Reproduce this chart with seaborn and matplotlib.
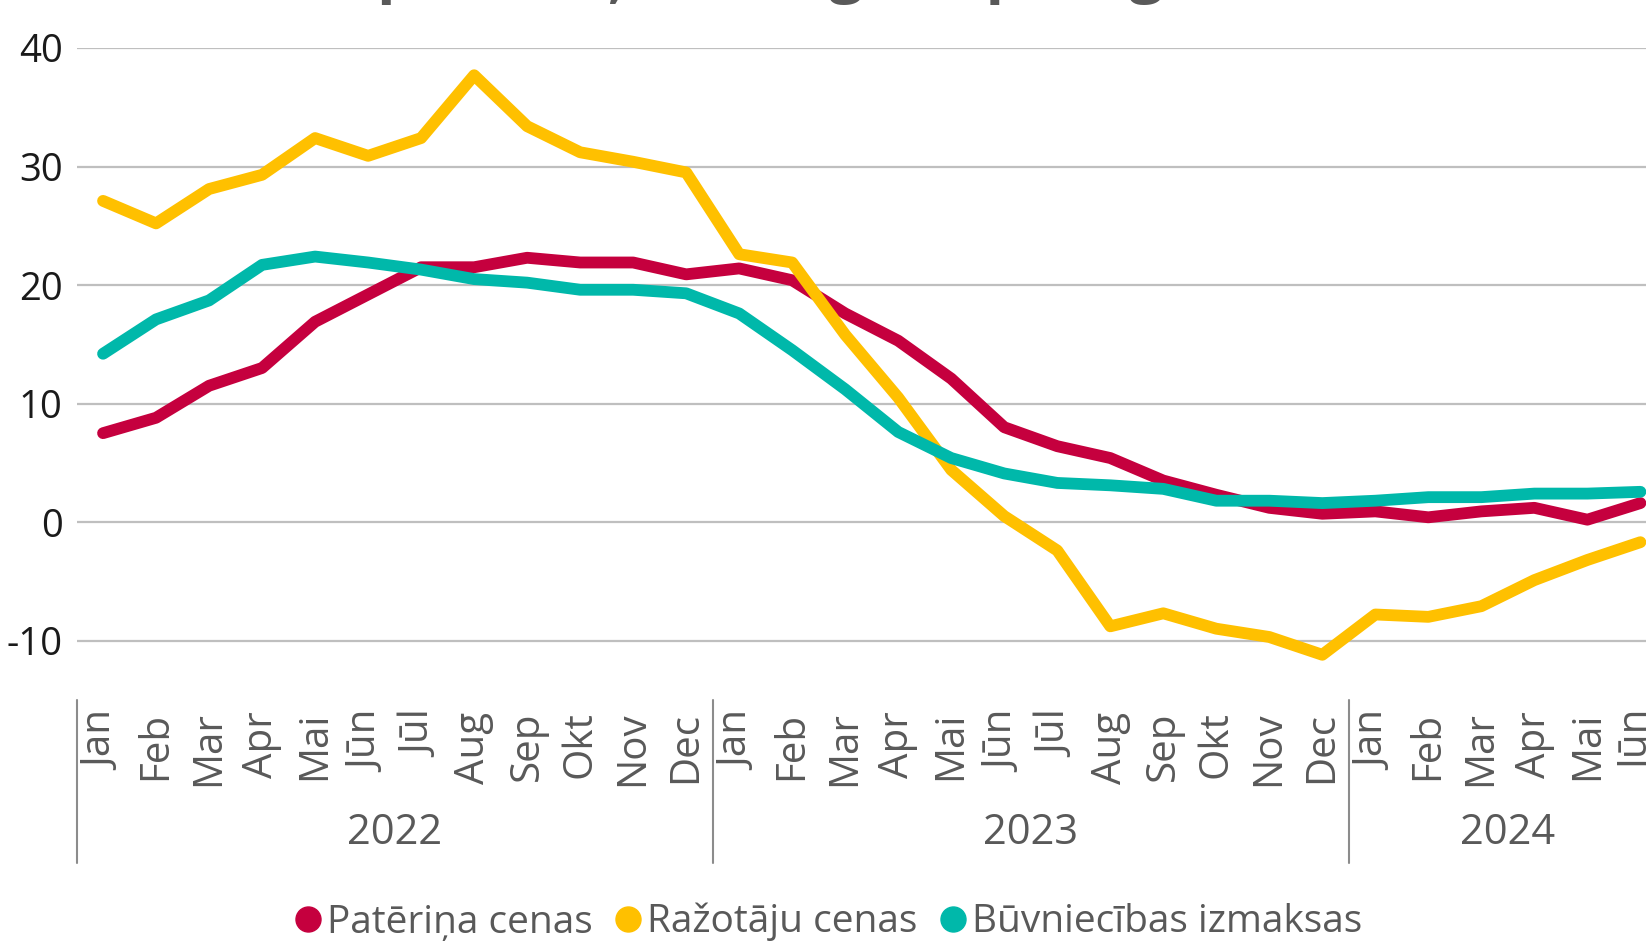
import numpy as np
import pandas as pd
import matplotlib
matplotlib.use("Agg")
import matplotlib.pyplot as plt
import matplotlib.transforms as mtransforms
from matplotlib.lines import Line2D
import seaborn as sns

# Data (y/y change, %), Jan 2022 - Jūn 2024
month_names = ['Jan', 'Feb', 'Mar', 'Apr', 'Mai', 'Jūn',
               'Jūl', 'Aug', 'Sep', 'Okt', 'Nov', 'Dec']
years = ['2022', '2023', '2024']
year_lengths = [12, 12, 6]
months = [m for n in year_lengths for m in month_names[:n]]

paterina_cenas = [7.5, 8.8, 11.5, 13.0, 16.9, 19.2, 21.5, 21.5, 22.3, 21.9, 21.9, 20.9,
                  21.4, 20.4, 17.6, 15.3, 12.1, 8.0, 6.4, 5.4, 3.5, 2.3, 1.2, 0.7,
                  0.9, 0.4, 0.9, 1.2, 0.2, 1.6]
razotaju_cenas = [27.1, 25.2, 28.1, 29.3, 32.4, 30.9, 32.4, 37.7, 33.4, 31.2, 30.4, 29.5,
                  22.6, 21.9, 15.8, 10.5, 4.4, 0.5, -2.4, -8.8, -7.7, -9.0, -9.7, -11.2,
                  -7.8, -8.0, -7.1, -4.9, -3.2, -1.7]
buvniecibas_izmaksas = [14.2, 17.1, 18.7, 21.7, 22.4, 21.9, 21.3, 20.5, 20.2, 19.6, 19.6, 19.3,
                        17.6, 14.5, 11.2, 7.6, 5.4, 4.1, 3.3, 3.1, 2.8, 1.8, 1.8, 1.6,
                        1.8, 2.1, 2.1, 2.4, 2.4, 2.55]

series_names = ['Patēriņa cenas', 'Ražotāju cenas', 'Būvniecības izmaksas']
colors = ['#C5003E', '#FFC000', '#00B8AA']
y_ticks = [-10, 0, 10, 20, 30, 40]

df = pd.DataFrame({
    'idx': list(range(len(months))) * 3,
    'value': paterina_cenas + razotaju_cenas + buvniecibas_izmaksas,
    'series': [s for s in series_names for _ in months],
})

sns.set_style('white')
plt.rcParams['font.family'] = ['Open Sans', 'DejaVu Sans']

fig = plt.figure(figsize=(16.46, 9.41), dpi=100)
ax = fig.add_axes([0.0465, 0.2689, 0.9662, 0.6801])

sns.lineplot(data=df, x='idx', y='value', hue='series', hue_order=series_names,
             palette=colors, linewidth=8.5, legend=False, ax=ax,
             solid_capstyle='round')

ax.set_xlim(-0.5, len(months) - 0.5)
ax.set_ylim(-14, 40)
ax.set_xlabel('')
ax.set_ylabel('')
sns.despine(ax=ax, left=True, bottom=True)

ax.set_yticks(y_ticks)
ax.set_yticklabels([str(t) for t in y_ticks], fontsize=27.5, color='#1a1a1a')
ax.yaxis.grid(True, color='#BFBFBF', linewidth=1.6)
ax.set_axisbelow(True)

ax.set_xticks(range(len(months)))
ax.set_xticklabels(months, rotation=90, fontsize=29, color='#595959')
ax.tick_params(axis='x', length=0, pad=17)
ax.tick_params(axis='y', length=0, pad=10)

# year groups under the month labels
trans = mtransforms.blended_transform_factory(ax.transData, ax.transAxes)
bounds = np.concatenate([[0], np.cumsum(year_lengths)]) - 0.5
for b in bounds:
    ax.plot([b, b], [-0.019, -0.273], transform=trans, color='#8c8c8c',
            linewidth=1.5, clip_on=False)
for yr, lo, hi in zip(years, bounds[:-1], bounds[1:]):
    ax.text((lo + hi) / 2, -0.227, yr, transform=trans, ha='center', va='center',
            fontsize=30, color='#595959')

# title, mostly cut off at the top edge
fig.text(0.790, 1.011, 'Cenu pārmaiņas, % (gads pret gadu)', ha='right',
         va='baseline', fontsize=44, fontweight='bold', color='#595959')

handles = [Line2D([], [], marker='o', linestyle='', color=c, markersize=18)
           for c in colors]
fig.legend(handles, series_names, loc='center', bbox_to_anchor=(0.5026, 0.020),
           ncol=3, frameon=False, fontsize=28, handletextpad=0.1,
           columnspacing=0.5, handlelength=0.8, labelcolor='#595959')

fig.savefig('out.png', dpi=100)
